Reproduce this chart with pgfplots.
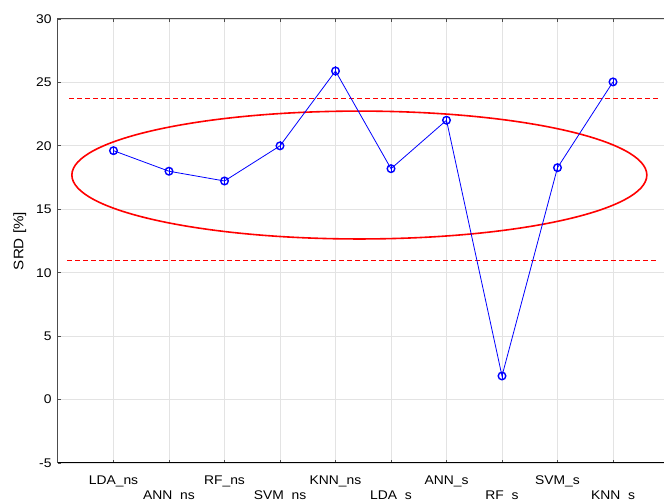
\documentclass[border=0pt]{standalone}
\usepackage{fontspec}
\setmainfont{Liberation Sans}[FakeStretch=1.1]
\usepackage{pgfplots}
\pgfplotsset{compat=1.18}
\begin{document}
\begin{tikzpicture}
\begin{axis}[
  name=ax, at={(0,0)}, anchor=south west,
  scale only axis, width=610.5pt, height=444pt,
  xmin=-1, xmax=10, ymin=-5, ymax=30,
  xtick={0,...,9},
  xticklabels={LDA\_ns, {\mbox{}\\[8pt]ANN\_ns}, RF\_ns, {\mbox{}\\[8pt]SVM\_ns}, KNN\_ns, {\mbox{}\\[8pt]LDA\_s}, ANN\_s, {\mbox{}\\[8pt]RF\_s}, SVM\_s, {\mbox{}\\[8pt]KNN\_s}},
  xticklabel style={align=center, anchor=north, yshift=-9.5pt, font=\fontsize{12.6}{15.5}\selectfont},
  ytick={-5,0,5,10,15,20,25,30},
  yticklabel style={font=\fontsize{12.6}{15}\selectfont, xshift=-3pt},
  /pgf/number format/assume math mode=true,
  grid=major, grid style={gray!22, line width=0.9pt},
  axis line style={draw=none},
  tick style={gray!60!black, line width=0.8pt},
  xtick pos=both, ytick pos=left,
  major tick length=3pt,
  ylabel={SRD [\%]},
  ylabel style={font=\fontsize{13.8}{15}\selectfont, yshift=3pt},
  clip=false,
]
\addplot[draw=red, dashed, line width=1pt, dash pattern=on 5pt off 3pt, forget plot] coordinates {(-0.8,23.7) (9.82,23.7)};
\addplot[draw=red, dashed, line width=1pt, dash pattern=on 5pt off 3pt, forget plot] coordinates {(-0.83,11.0) (9.82,11.0)};
\draw[red, line width=1.6pt] (axis cs:4.43,17.7) ellipse [x radius=5.18, y radius=5.04];
\addplot[blue, line width=0.8pt, mark=o, mark size=3.8pt, mark options={line width=1.4pt},
  error bars/.cd, y dir=both, y explicit, error mark options={blue, line width=1pt, mark size=2.5pt},
  error bar style={line width=1pt}]
  coordinates {
  (0,19.62) +- (0,0.15)
  (1,18.0) +- (0,0.12)
  (2,17.23) +- (0,0.12)
  (3,20.0) +- (0,0.15)
  (4,25.9) +- (0,0.18)
  (5,18.2) +- (0,0.12)
  (6,22.02) +- (0,0.12)
  (7,1.86) +- (0,0.12)
  (8,18.28) +- (0,0.15)
  (9,25.04) +- (0,0.15)
  };
\draw[gray!60!black, line width=1pt] (rel axis cs:0,0) -- (rel axis cs:0,1) -- (rel axis cs:1,1);
\draw[black, line width=1pt] (rel axis cs:0,0) -- (rel axis cs:1,0);
\end{axis}
\pgfresetboundingbox
\path[use as bounding box] ([xshift=-58pt,yshift=-37pt]ax.south west) rectangle ([xshift=606pt,yshift=19pt]ax.north west);
\end{tikzpicture}
\end{document}
